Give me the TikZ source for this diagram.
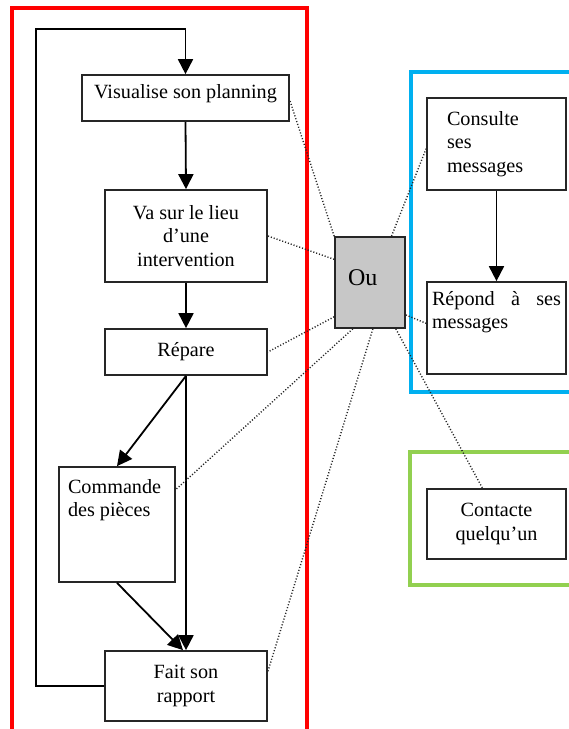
\documentclass[tikz,border=0pt]{standalone}
\usepackage{fontspec}
\setmainfont{Liberation Serif}
\usepackage{tikz}
\usetikzlibrary{arrows.meta,calc,positioning}
\definecolor{rouge}{RGB}{255,0,0}
\definecolor{bleuciel}{RGB}{0,176,240}
\definecolor{vertclair}{RGB}{146,208,80}
\tikzset{
  boite/.style={draw=black!85,line width=1.7pt,font=\fontsize{20.2}{23.5}\selectfont},
  boiteou/.style={boite,fill=black!22,font=\fontsize{24}{28}\selectfont},
  fleche/.style={-{Triangle[length=15pt,width=15pt]},line width=1.8pt},
  lien/.style={black!85,line width=1.4pt,dash pattern=on 1.1pt off 1.9pt},
  cadre/.style={line width=3.5pt}
}

\begin{document}
\begin{tikzpicture}[x=1pt,y=-1pt]
\clip (0,0) rectangle (569,729);
% cadres
\draw[cadre,rouge] (12,8) rectangle (307,745);
\draw[cadre,bleuciel] (411,72) rectangle (580,392);
\draw[cadre,vertclair] (410,452) rectangle (580,585);
% boites de gauche
\node[boite,align=center,minimum width=207pt,minimum height=46pt,text depth=13pt] (visualise) at (185.5,98) {Visualise son planning};
\node[boite,align=center,minimum width=162pt,minimum height=92pt] (lieu) at (186,236) {Va sur le lieu\\d’une\\intervention};
\node[boite,align=center,minimum width=162pt,minimum height=46pt] (repare) at (186,352) {Répare};
\node[boite,inner xsep=9pt,inner ysep=0pt] (commande) at (117,524.5)
  {\parbox[c][115pt][t]{98pt}{\raggedright\rule{0pt}{26pt}Commande\\des pièces}};
\node[boite,align=center,minimum width=162pt,minimum height=70pt] (rapport) at (186,686) {Fait son\\rapport};
% le noeud central
\node[boiteou,text width=44pt,inner xsep=13pt,align=left,minimum height=91pt,text depth=10pt] (ou) at (370,282.5) {Ou};
% boites de droite
\node[boite,text width=99pt,inner xsep=20pt,align=left,minimum height=92pt] (consulte) at (496.5,144) {Consulte\\ses\\messages};
\node[boite,inner xsep=5pt,inner ysep=0pt] (repond) at (496.5,328)
  {\parbox[c][92pt][t]{129pt}{\rule{0pt}{23pt}Répond \hfill à \hfill ses\\messages}};
\node[boite,align=center,minimum width=139pt,minimum height=70pt] (contacte) at (496.5,524) {Contacte\\quelqu’un};
% fleches
\coordinate (coin) at (36,29);
\draw[fleche] (rapport.west) -| (coin) -| (visualise.north);
\draw[fleche] (visualise.south) -- (lieu.north);
\draw[fleche] (lieu.south) -- (repare.north);
\draw[fleche] (repare.south) -- (commande.north);
\draw[fleche] (repare.south) -- (rapport.north);
\draw[fleche] (commande.south) -- ([xshift=-3pt]rapport.north);
\draw[fleche] (consulte.south) -- (repond.north);
% liens en pointille
\draw[lien] (ou.north west) -- ($(visualise.north east)!0.55!(visualise.south east)$);
\draw[lien] ($(ou.north west)!0.25!(ou.south west)$) -- (lieu.east);
\draw[lien] ($(ou.north west)!0.87!(ou.south west)$) -- (repare.east);
\draw[lien] ($(ou.south west)!0.26!(ou.south east)$) -- ($(commande.north east)!0.2!(commande.south east)$);
\draw[lien] ($(ou.south west)!0.54!(ou.south east)$) -- ($(rapport.north east)!0.3!(rapport.south east)$);
\draw[lien] ($(ou.north west)!0.8!(ou.north east)$) -- ($(consulte.north west)!0.55!(consulte.south west)$);
\draw[lien] ($(ou.north east)!0.85!(ou.south east)$) -- ($(repond.north west)!0.45!(repond.south west)$);
\draw[lien] ($(ou.south west)!0.86!(ou.south east)$) -- ($(contacte.north west)!0.4!(contacte.north east)$);
\end{tikzpicture}
\end{document}
